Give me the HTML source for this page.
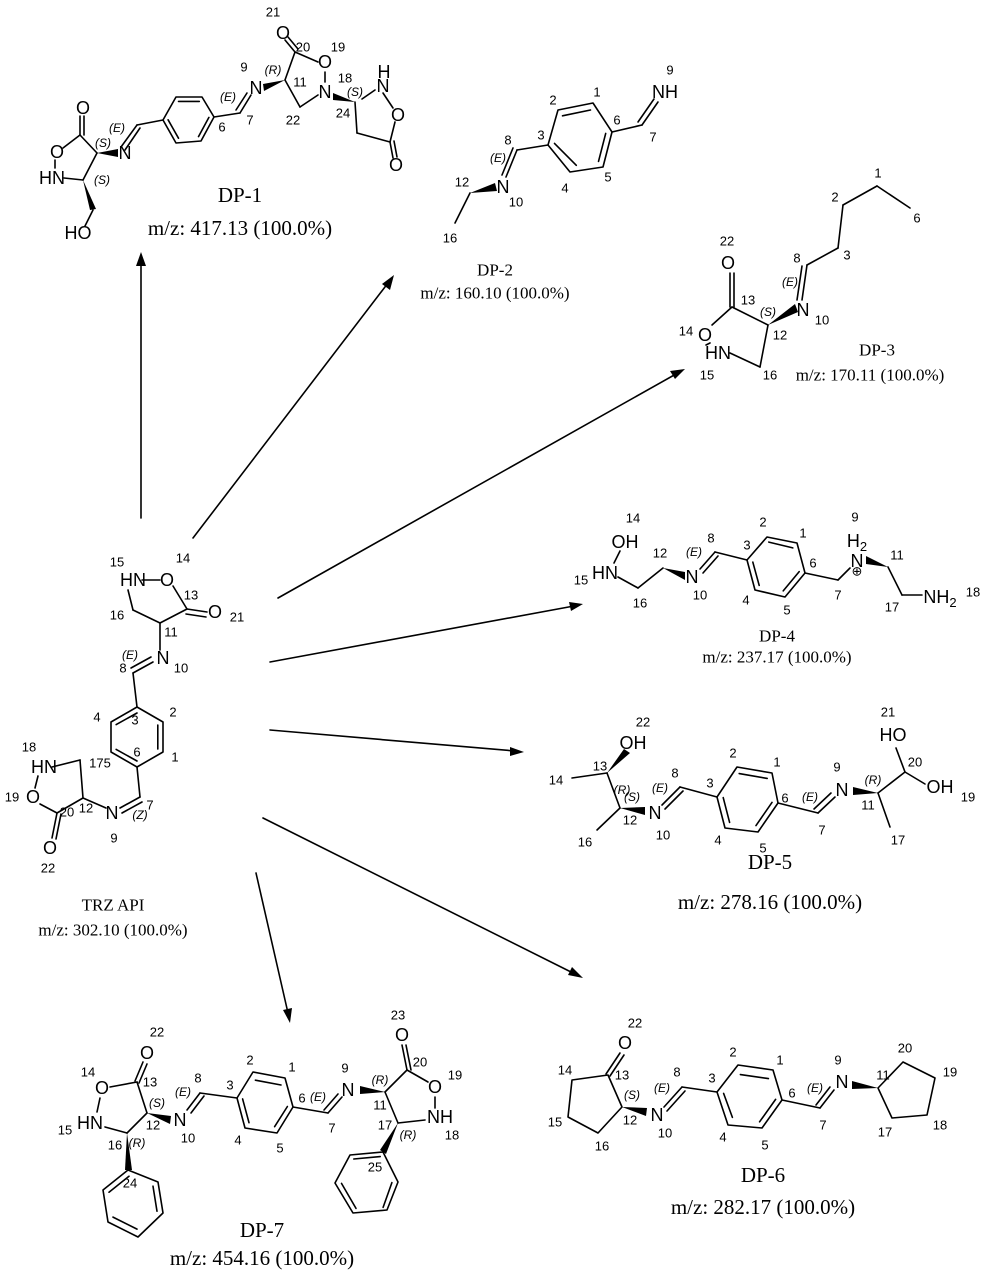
<!DOCTYPE html>
<html><head><meta charset="utf-8"><style>
html,body{margin:0;padding:0;background:#fff;}
svg{display:block}
.b{stroke:#000;stroke-width:1.6;fill:none;stroke-linecap:round;stroke-linejoin:round}
.a{font-family:"Liberation Sans",sans-serif;font-size:18px;text-anchor:middle;dominant-baseline:central;fill:#000}
.n{font-family:"Liberation Sans",sans-serif;font-size:13px;text-anchor:middle;dominant-baseline:central;fill:#000}
.s{font-family:"Liberation Sans",sans-serif;font-size:12px;font-style:italic;text-anchor:middle;dominant-baseline:central;fill:#000}
.t{font-family:"Liberation Serif",serif;font-size:17px;text-anchor:middle;dominant-baseline:central;fill:#000}
.T{font-family:"Liberation Serif",serif;font-size:21px;text-anchor:middle;dominant-baseline:central;fill:#000}
</style></head><body>
<svg width="985" height="1275" viewBox="0 0 985 1275" xmlns="http://www.w3.org/2000/svg">
<rect width="985" height="1275" fill="#fff"/>
<!-- ARROWS -->
<g class="b">
<line x1="141" y1="518" x2="141" y2="262"/>
<line x1="193" y1="538" x2="388" y2="283"/>
<line x1="278" y1="598" x2="676" y2="374"/>
<line x1="270" y1="662" x2="574" y2="606"/>
<line x1="270" y1="730" x2="515" y2="751"/>
<line x1="263" y1="818" x2="575" y2="974"/>
<line x1="256" y1="873" x2="288" y2="1013"/>
</g>
<g fill="#000">
<polygon points="141,252 136,266 146,266"/>
<polygon points="394,275 382,284 390,290"/>
<polygon points="685,369 670,371 675,379"/>
<polygon points="583,604 569,602 571,611"/>
<polygon points="524,752 510,747 510,756"/>
<polygon points="583,978 572,967 568,975"/>
<polygon points="290,1023 283,1010 292,1008"/>
</g>

<!-- inner aromatic lines -->
<g class="b">
<line x1="178.5" y1="101.4" x2="199.3" y2="101.4"/><line x1="208.9" y1="117.4" x2="198.5" y2="136.6"/><line x1="178.5" y1="138.2" x2="168.1" y2="119.8"/>
<line x1="137" y1="713" x2="116.2" y2="724.6"/><line x1="157.8" y1="725" x2="157.8" y2="749"/><line x1="137" y1="761" x2="116.2" y2="749.4"/>
<line x1="590.5" y1="110" x2="562.5" y2="115.8"/><line x1="554.5" y1="143.4" x2="576.3" y2="165.3"/><line x1="598.5" y1="161.4" x2="605.7" y2="133.4"/>
<line x1="768.8" y1="542.1" x2="792.8" y2="547.9"/><line x1="752.8" y1="562.1" x2="759.2" y2="585.4"/><line x1="799.2" y1="571.6" x2="783.2" y2="590.9"/>
<line x1="739.2" y1="773.6" x2="767.2" y2="778.4"/><line x1="723.2" y1="797.6" x2="729.6" y2="822.4"/><line x1="772" y1="802.4" x2="756" y2="825.6"/>
<line x1="740.4" y1="1074.6" x2="768.4" y2="1078.6"/><line x1="723.6" y1="1093.4" x2="732.4" y2="1117.4"/><line x1="775.6" y1="1099.4" x2="759.6" y2="1121.8"/>
<line x1="255.4" y1="1080.2" x2="281" y2="1085"/><line x1="242.6" y1="1098.9" x2="249" y2="1122.7"/><line x1="287.4" y1="1106.5" x2="274.6" y2="1126.7"/>
<line x1="129" y1="1176.2" x2="109" y2="1192.2"/><line x1="153" y1="1186.2" x2="157" y2="1211.2"/><line x1="137" y1="1229.1" x2="113" y2="1217.1"/>
<line x1="353.8" y1="1159" x2="380.2" y2="1156.6"/><line x1="391.9" y1="1182.6" x2="383.1" y2="1207.4"/><line x1="356" y1="1208.4" x2="341.5" y2="1183.4"/>
</g>

<!-- TRZ API -->
<g class="b">
<line x1="142" y1="580" x2="160" y2="580"/>
<line x1="173" y1="586" x2="187" y2="609"/>
<line x1="187" y1="609" x2="207" y2="612"/><line x1="186" y1="614" x2="206" y2="617"/>
<line x1="187" y1="609" x2="160" y2="623"/>
<line x1="160" y1="623" x2="133" y2="610"/>
<line x1="133" y1="610" x2="128" y2="590"/>
<line x1="160" y1="623" x2="160" y2="650"/>
<line x1="153" y1="662" x2="133" y2="673"/><line x1="151" y1="657" x2="131" y2="668"/>
<line x1="133" y1="673" x2="137" y2="707"/>
<polygon points="137,707 163,722 163,752 137,767 111,752 111,722"/>
<line x1="137" y1="767" x2="140" y2="797"/>
<line x1="140" y1="797" x2="120" y2="808"/><line x1="142" y1="802" x2="122" y2="813"/>
<line x1="106" y1="808" x2="83" y2="798"/>
<line x1="83" y1="798" x2="80" y2="760"/>
<line x1="80" y1="760" x2="52" y2="767"/>
<line x1="38" y1="776" x2="35" y2="788"/>
<line x1="40" y1="804" x2="57" y2="813"/>
<line x1="57" y1="813" x2="83" y2="798"/>
<line x1="57" y1="813" x2="52" y2="838"/><line x1="61" y1="814" x2="56" y2="839"/>
</g>
<text class="a" x="133" y="580">HN</text><text class="a" x="167" y="580">O</text>
<text class="a" x="215" y="612">O</text><text class="a" x="163" y="658">N</text>
<text class="a" x="112" y="813">N</text><text class="a" x="44" y="767">HN</text>
<text class="a" x="33" y="797">O</text><text class="a" x="50" y="848">O</text>
<text class="n" x="117" y="562">15</text><text class="n" x="183" y="558">14</text>
<text class="n" x="191" y="595">13</text><text class="n" x="237" y="617">21</text>
<text class="n" x="117" y="615">16</text><text class="n" x="171" y="632">11</text>
<text class="s" x="130" y="655">(E)</text><text class="n" x="123" y="668">8</text><text class="n" x="181" y="668">10</text>
<text class="n" x="97" y="717">4</text><text class="n" x="135" y="720">3</text><text class="n" x="173" y="712">2</text>
<text class="n" x="137" y="752">6</text><text class="n" x="175" y="757">1</text>
<text class="n" x="100" y="763">175</text><text class="n" x="150" y="805">7</text><text class="s" x="140" y="815">(Z)</text>
<text class="n" x="114" y="838">9</text><text class="n" x="86" y="808">12</text><text class="n" x="67" y="812">20</text>
<text class="n" x="29" y="747">18</text><text class="n" x="12" y="797">19</text><text class="n" x="48" y="868">22</text>
<text class="t" x="113" y="905">TRZ API</text><text class="t" x="113" y="930">m/z: 302.10 (100.0%)</text>

<!-- DP-1 -->
<g class="b">
<line x1="80" y1="135" x2="80" y2="116"/><line x1="84" y1="135" x2="84" y2="116"/>
<line x1="80" y1="135" x2="63" y2="148"/>
<line x1="55" y1="160" x2="55" y2="168"/>
<line x1="64" y1="178" x2="83" y2="180"/>
<line x1="83" y1="180" x2="97" y2="153"/>
<line x1="97" y1="153" x2="80" y2="135"/>
<line x1="121" y1="147" x2="137" y2="125"/><line x1="125" y1="150" x2="140" y2="128"/>
<line x1="137" y1="125" x2="163" y2="120"/>
<polygon points="163,120 176,97 202,97 214,117 201,141 176,143"/>
<line x1="214" y1="117" x2="240" y2="113"/>
<line x1="240" y1="113" x2="251" y2="95"/><line x1="236" y1="110" x2="247" y2="93"/>
<line x1="285" y1="80" x2="295" y2="52"/>
<line x1="295" y1="52" x2="285" y2="40"/><line x1="298" y1="49" x2="288" y2="37"/>
<line x1="295" y1="52" x2="318" y2="62"/>
<line x1="325" y1="72" x2="325" y2="82"/>
<line x1="318" y1="95" x2="300" y2="107"/>
<line x1="300" y1="107" x2="285" y2="80"/>
<line x1="383" y1="93" x2="393" y2="108"/>
<line x1="395" y1="122" x2="390" y2="142"/>
<line x1="390" y1="142" x2="393" y2="158"/><line x1="394" y1="141" x2="397" y2="157"/>
<line x1="390" y1="142" x2="357" y2="133"/><line x1="357" y1="133" x2="355" y2="102"/>
<line x1="362" y1="99" x2="375" y2="90"/>
</g>
<g fill="#000">
<polygon points="97,153 118,149 118,157"/>
<polygon points="83,180 90,210 96,209"/>
<polygon points="285,80 263,84 264,91"/>
<polygon points="355,102 333,93 333,100"/>
</g>
<line class="b" x1="93" y1="210" x2="85" y2="226"/>
<text class="a" x="83" y="108">O</text><text class="a" x="57" y="152">O</text><text class="a" x="52" y="178">HN</text>
<text class="a" x="78" y="233">HO</text><text class="a" x="125" y="153">N</text>
<text class="a" x="256" y="88">N</text><text class="a" x="283" y="33">O</text><text class="a" x="325" y="62">O</text>
<text class="a" x="325" y="92">N</text><text class="a" x="383" y="86">N</text><text class="a" x="384" y="72">H</text>
<text class="a" x="398" y="115">O</text><text class="a" x="396" y="165">O</text>
<text class="s" x="103" y="143">(S)</text><text class="s" x="102" y="180">(S)</text><text class="s" x="117" y="128">(E)</text>
<text class="n" x="222" y="127">6</text><text class="n" x="250" y="120">7</text><text class="s" x="228" y="97">(E)</text>
<text class="n" x="244" y="67">9</text><text class="s" x="273" y="70">(R)</text><text class="n" x="300" y="82">11</text>
<text class="n" x="273" y="12">21</text><text class="n" x="303" y="47">20</text><text class="n" x="338" y="47">19</text>
<text class="n" x="345" y="78">18</text><text class="n" x="293" y="120">22</text><text class="s" x="355" y="92">(S)</text>
<text class="n" x="343" y="113">24</text>
<text class="T" x="240" y="195">DP-1</text><text class="T" x="240" y="228">m/z: 417.13 (100.0%)</text>

<!-- DP-2 -->
<g class="b">
<line x1="658" y1="102" x2="642" y2="125"/><line x1="654" y1="99" x2="638" y2="122"/>
<line x1="642" y1="125" x2="612" y2="132"/>
<polygon points="593,103 558,110 548,145 570,172 603,167 612,132"/>
<line x1="548" y1="145" x2="517" y2="150"/>
<line x1="517" y1="150" x2="506" y2="177"/><line x1="513" y1="148" x2="502" y2="175"/>
<line x1="470" y1="193" x2="455" y2="223"/>
</g>
<polygon points="470,193 495,183 497,191" fill="#000"/>
<text class="a" x="665" y="92">NH</text><text class="a" x="503" y="187">N</text>
<text class="n" x="670" y="70">9</text><text class="n" x="597" y="92">1</text><text class="n" x="553" y="100">2</text>
<text class="n" x="541" y="135">3</text><text class="n" x="565" y="188">4</text><text class="n" x="608" y="177">5</text>
<text class="n" x="617" y="120">6</text><text class="n" x="653" y="137">7</text><text class="n" x="508" y="140">8</text>
<text class="s" x="498" y="158">(E)</text><text class="n" x="462" y="182">12</text><text class="n" x="516" y="202">10</text>
<text class="n" x="450" y="238">16</text>
<text class="t" x="495" y="270">DP-2</text><text class="t" x="495" y="293">m/z: 160.10 (100.0%)</text>

<!-- DP-3 -->
<g class="b">
<line x1="730" y1="273" x2="730" y2="307"/><line x1="734" y1="273" x2="734" y2="307"/>
<line x1="732" y1="307" x2="768" y2="325"/>
<line x1="732" y1="307" x2="712" y2="325"/>
<line x1="706" y1="345" x2="710" y2="343"/>
<line x1="730" y1="353" x2="760" y2="367"/>
<line x1="760" y1="367" x2="768" y2="325"/>
<line x1="802" y1="300" x2="807" y2="265"/><line x1="797" y1="300" x2="802" y2="266"/>
<line x1="807" y1="265" x2="838" y2="248"/>
<line x1="838" y1="248" x2="843" y2="205"/>
<line x1="843" y1="205" x2="877" y2="186"/>
<line x1="877" y1="186" x2="910" y2="208"/>
</g>
<polygon points="768,325 795,304 798,312" fill="#000"/>
<text class="a" x="728" y="263">O</text><text class="a" x="705" y="335">O</text><text class="a" x="718" y="353">HN</text>
<text class="a" x="803" y="310">N</text>
<text class="n" x="727" y="241">22</text><text class="n" x="748" y="300">13</text><text class="s" x="768" y="312">(S)</text>
<text class="n" x="780" y="335">12</text><text class="n" x="822" y="320">10</text><text class="n" x="797" y="258">8</text>
<text class="s" x="790" y="282">(E)</text><text class="n" x="847" y="255">3</text><text class="n" x="835" y="197">2</text>
<text class="n" x="878" y="173">1</text><text class="n" x="917" y="218">6</text><text class="n" x="686" y="331">14</text>
<text class="n" x="707" y="375">15</text><text class="n" x="770" y="375">16</text>
<text class="t" x="877" y="350">DP-3</text><text class="t" x="870" y="375">m/z: 170.11 (100.0%)</text>

<!-- DP-4 -->
<g class="b">
<line x1="620" y1="551" x2="614" y2="563"/>
<line x1="618" y1="577" x2="638" y2="588"/>
<line x1="638" y1="588" x2="663" y2="568"/>
<line x1="700" y1="569" x2="715" y2="552"/><line x1="703" y1="573" x2="718" y2="556"/>
<line x1="715" y1="552" x2="747" y2="560"/>
<polygon points="747,560 767,537 797,543 805,573 785,597 755,590"/>
<line x1="805" y1="573" x2="838" y2="580"/>
<line x1="838" y1="580" x2="850" y2="568"/>
<line x1="888" y1="567" x2="902" y2="595"/>
<line x1="902" y1="595" x2="922" y2="595"/>
</g>
<polygon points="663,568 685,572 685,580" fill="#000"/>
<polygon points="888,567 866,556 866,564" fill="#000"/>
<text class="a" x="625" y="542">OH</text><text class="a" x="605" y="573">HN</text><text class="a" x="692" y="577">N</text>
<text class="a" x="857" y="561">N</text><text class="a" x="857" y="541">H<tspan font-size="13" dy="5">2</tspan></text>
<text class="n" x="857" y="571" font-size="10">⊕</text>
<text class="a" x="940" y="597">NH<tspan font-size="13" dy="5">2</tspan></text>
<text class="n" x="633" y="518">14</text><text class="n" x="581" y="580">15</text><text class="n" x="640" y="603">16</text>
<text class="n" x="660" y="553">12</text><text class="n" x="700" y="595">10</text><text class="s" x="694" y="552">(E)</text>
<text class="n" x="711" y="538">8</text><text class="n" x="747" y="545">3</text><text class="n" x="763" y="522">2</text>
<text class="n" x="803" y="533">1</text><text class="n" x="813" y="563">6</text><text class="n" x="746" y="600">4</text>
<text class="n" x="787" y="610">5</text><text class="n" x="838" y="595">7</text><text class="n" x="855" y="517">9</text>
<text class="n" x="897" y="555">11</text><text class="n" x="892" y="607">17</text><text class="n" x="973" y="592">18</text>
<text class="t" x="777" y="636">DP-4</text><text class="t" x="777" y="657">m/z: 237.17 (100.0%)</text>

<!-- DP-5 -->
<g class="b">
<line x1="607" y1="773" x2="572" y2="778"/>
<line x1="607" y1="773" x2="620" y2="808"/>
<line x1="620" y1="808" x2="597" y2="830"/>
<line x1="662" y1="805" x2="680" y2="787"/><line x1="665" y1="809" x2="683" y2="791"/>
<line x1="680" y1="787" x2="717" y2="797"/>
<polygon points="717,797 737,767 772,773 778,803 758,832 725,828"/>
<line x1="778" y1="803" x2="818" y2="813"/>
<line x1="818" y1="813" x2="835" y2="797"/><line x1="814" y1="809" x2="831" y2="793"/>
<line x1="878" y1="793" x2="890" y2="827"/>
<line x1="878" y1="793" x2="905" y2="772"/>
<line x1="905" y1="772" x2="896" y2="748"/>
<line x1="905" y1="772" x2="925" y2="784"/>
</g>
<g fill="#000">
<polygon points="607,773 624,749 630,753"/>
<polygon points="620,808 645,807 645,815"/>
<polygon points="878,793 853,787 853,795"/>
</g>
<text class="a" x="633" y="743">OH</text><text class="a" x="655" y="813">N</text><text class="a" x="842" y="790">N</text>
<text class="a" x="893" y="735">HO</text><text class="a" x="940" y="787">OH</text>
<text class="n" x="643" y="722">22</text><text class="n" x="600" y="766">13</text><text class="s" x="622" y="790">(R)</text>
<text class="n" x="556" y="780">14</text><text class="s" x="632" y="797">(S)</text><text class="n" x="630" y="820">12</text>
<text class="n" x="585" y="842">16</text><text class="n" x="663" y="835">10</text><text class="s" x="660" y="788">(E)</text>
<text class="n" x="675" y="773">8</text><text class="n" x="710" y="783">3</text><text class="n" x="733" y="753">2</text>
<text class="n" x="777" y="762">1</text><text class="n" x="785" y="798">6</text><text class="n" x="718" y="840">4</text>
<text class="n" x="763" y="848">5</text><text class="n" x="822" y="830">7</text><text class="s" x="810" y="797">(E)</text>
<text class="n" x="837" y="767">9</text><text class="s" x="873" y="780">(R)</text><text class="n" x="868" y="805">11</text>
<text class="n" x="898" y="840">17</text><text class="n" x="915" y="762">20</text><text class="n" x="888" y="712">21</text>
<text class="n" x="968" y="797">19</text>
<text class="T" x="770" y="862">DP-5</text><text class="T" x="770" y="902">m/z: 278.16 (100.0%)</text>

<!-- DP-6 -->
<g class="b">
<line x1="620" y1="1053" x2="606" y2="1074"/><line x1="624" y1="1055" x2="610" y2="1076"/>
<polygon points="608,1075 572,1080 568,1117 598,1133 622,1107"/>
<line x1="664" y1="1107" x2="682" y2="1087"/><line x1="667" y1="1111" x2="685" y2="1091"/>
<line x1="682" y1="1087" x2="717" y2="1092"/>
<polygon points="717,1092 738,1065 773,1070 782,1100 762,1128 728,1125"/>
<line x1="782" y1="1100" x2="820" y2="1108"/>
<line x1="820" y1="1108" x2="834" y2="1090"/><line x1="816" y1="1105" x2="830" y2="1087"/>
<polygon points="878,1088 903,1062 935,1078 927,1115 892,1118"/>
</g>
<g fill="#000">
<polygon points="622,1107 647,1108 646,1116"/>
<polygon points="878,1088 852,1081 852,1089"/>
</g>
<text class="a" x="625" y="1043">O</text><text class="a" x="657" y="1115">N</text><text class="a" x="842" y="1082">N</text>
<text class="n" x="635" y="1023">22</text><text class="n" x="622" y="1075">13</text><text class="n" x="565" y="1070">14</text>
<text class="n" x="555" y="1122">15</text><text class="n" x="602" y="1146">16</text><text class="s" x="632" y="1095">(S)</text>
<text class="n" x="630" y="1120">12</text><text class="n" x="665" y="1133">10</text><text class="s" x="662" y="1088">(E)</text>
<text class="n" x="677" y="1072">8</text><text class="n" x="712" y="1078">3</text><text class="n" x="733" y="1052">2</text>
<text class="n" x="780" y="1060">1</text><text class="n" x="792" y="1093">6</text><text class="n" x="723" y="1137">4</text>
<text class="n" x="765" y="1145">5</text><text class="n" x="823" y="1125">7</text><text class="s" x="815" y="1088">(E)</text>
<text class="n" x="838" y="1060">9</text><text class="n" x="883" y="1075">11</text><text class="n" x="905" y="1048">20</text>
<text class="n" x="950" y="1072">19</text><text class="n" x="940" y="1125">18</text><text class="n" x="885" y="1132">17</text>
<text class="T" x="763" y="1175">DP-6</text><text class="T" x="763" y="1207">m/z: 282.17 (100.0%)</text>

<!-- DP-7 -->
<g class="b">
<line x1="143" y1="1062" x2="135" y2="1081"/><line x1="147" y1="1064" x2="139" y2="1083"/>
<line x1="137" y1="1082" x2="110" y2="1087"/>
<line x1="100" y1="1098" x2="97" y2="1112"/>
<line x1="105" y1="1127" x2="127" y2="1133"/>
<line x1="127" y1="1133" x2="147" y2="1113"/>
<line x1="147" y1="1113" x2="137" y2="1082"/>
<polygon points="128,1170 158,1182 163,1213 138,1237 108,1222 103,1190"/>
<line x1="187" y1="1110" x2="200" y2="1093"/><line x1="191" y1="1113" x2="204" y2="1096"/>
<line x1="200" y1="1093" x2="237" y2="1098"/>
<polygon points="237,1098 253,1072 285,1078 293,1107 277,1133 245,1128"/>
<line x1="293" y1="1107" x2="328" y2="1113"/>
<line x1="328" y1="1113" x2="342" y2="1097"/><line x1="324" y1="1110" x2="338" y2="1094"/>
<line x1="385" y1="1092" x2="407" y2="1070"/>
<line x1="407" y1="1070" x2="402" y2="1045"/><line x1="411" y1="1070" x2="406" y2="1045"/>
<line x1="407" y1="1070" x2="428" y2="1082"/>
<line x1="435" y1="1097" x2="435" y2="1108"/>
<line x1="425" y1="1120" x2="398" y2="1123"/>
<line x1="398" y1="1123" x2="385" y2="1092"/>
<polygon points="383,1152 398,1182 387,1210 353,1213 335,1183 350,1155"/>
</g>
<g fill="#000">
<polygon points="147,1113 171,1116 170,1124"/>
<polygon points="127,1133 125,1170 132,1170"/>
<polygon points="385,1092 360,1086 360,1094"/>
<polygon points="398,1123 380,1150 386,1154"/>
</g>
<text class="a" x="147" y="1053">O</text><text class="a" x="102" y="1088">O</text><text class="a" x="90" y="1123">HN</text>
<text class="a" x="180" y="1120">N</text><text class="a" x="348" y="1090">N</text><text class="a" x="402" y="1035">O</text>
<text class="a" x="435" y="1087">O</text><text class="a" x="440" y="1117">NH</text>
<text class="n" x="157" y="1032">22</text><text class="n" x="150" y="1082">13</text><text class="n" x="88" y="1072">14</text>
<text class="n" x="65" y="1130">15</text><text class="n" x="115" y="1145">16</text><text class="s" x="137" y="1143">(R)</text>
<text class="s" x="157" y="1103">(S)</text><text class="n" x="153" y="1125">12</text><text class="n" x="130" y="1183">24</text>
<text class="n" x="188" y="1138">10</text><text class="s" x="183" y="1092">(E)</text><text class="n" x="198" y="1078">8</text>
<text class="n" x="230" y="1085">3</text><text class="n" x="250" y="1060">2</text><text class="n" x="292" y="1067">1</text>
<text class="n" x="302" y="1098">6</text><text class="n" x="238" y="1140">4</text><text class="n" x="280" y="1148">5</text>
<text class="n" x="332" y="1128">7</text><text class="s" x="318" y="1097">(E)</text><text class="n" x="345" y="1068">9</text>
<text class="s" x="380" y="1080">(R)</text><text class="n" x="380" y="1105">11</text><text class="n" x="420" y="1062">20</text>
<text class="n" x="398" y="1015">23</text><text class="n" x="455" y="1075">19</text><text class="n" x="452" y="1135">18</text>
<text class="n" x="385" y="1125">17</text><text class="s" x="408" y="1135">(R)</text><text class="n" x="375" y="1167">25</text>
<text class="T" x="262" y="1230">DP-7</text><text class="T" x="262" y="1258">m/z: 454.16 (100.0%)</text>
</svg>
</body></html>
